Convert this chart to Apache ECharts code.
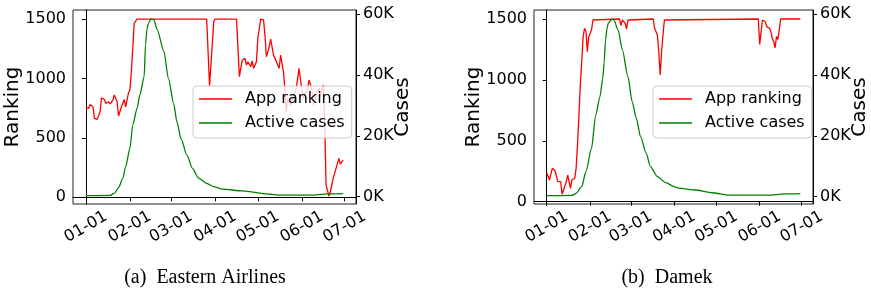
<!DOCTYPE html>
<html>
<head>
<meta charset="utf-8">
<title>App ranking vs active cases</title>
<script src="https://cdn.jsdelivr.net/npm/echarts@6/dist/echarts.min.js"></script>
<style>
  html, body { margin: 0; padding: 0; background: #fff; }
  #main { width: 871px; height: 293px; }
</style>
</head>
<body>
<div id="main"></div>
<script>
// 2020 was a leap year, day index counted from 01-01
const monthStart = [0, 31, 60, 91, 121, 152, 182];

const xTickLabels = ['01-01', '02-01', '03-01', '04-01', '05-01', '06-01', '07-01'];
const rankTicks = [0, 500, 1000, 1500];
const caseTicks = [0, 20000, 40000, 60000];
const seriesNames = ['App ranking', 'Active cases'];
const captions = ['(a)\u2002Eastern Airlines', '(b)\u2002Damek'];

// (a) Eastern Airlines
const eaRankDates = ['01-01','01-03','01-04','01-06','01-07','01-09','01-11','01-12','01-14','01-15',
  '01-17','01-18','01-20','01-21','01-23','01-24','01-26','01-28','01-29','01-30',
  '01-31','02-01','02-02','02-03','02-04','02-06','03-26','03-28','03-31','04-01',
  '04-16','04-18','04-20','04-22','04-23','04-24','04-26','04-27','04-28','04-30',
  '05-01','05-03','05-05','05-06','05-07','05-09','05-10','05-12','05-14','05-16',
  '05-17','05-19','05-20','05-21','05-22','05-24','05-26','05-28','05-30','05-31',
  '06-02','06-05','06-06','06-08','06-09','06-11','06-13','06-14','06-16','06-17',
  '06-18','06-20','06-21','06-23','06-25','06-27','06-28','06-30'];
const eaRankValues = [754,749,782,762,665,656,720,838,824,791,
  804,785,818,861,804,684,762,824,762,776,
  880,903,1057,1253,1464,1500,1500,936,1480,1500,
  1500,1015,1155,1169,1113,1141,1099,1147,1085,1141,
  1337,1500,1492,1365,1183,1267,1332,1197,1141,1085,
  1197,1057,917,720,833,776,846,917,1085,987,
  833,917,987,909,776,860,922,846,945,650,
  103,11,47,160,244,328,280,314];

const eaCaseDates = ['01-01','01-18','01-21','01-24','01-27','01-29','02-01','02-03','02-06','02-08',
  '02-11','02-12','02-13','02-14','02-16','02-18','02-20','02-25','02-28','03-03',
  '03-05','03-08','03-12','03-16','03-20','03-26','03-31','04-06','04-20','05-10',
  '05-15','06-07','06-19','06-30'];
const eaCaseValues = [330,400,1100,3000,6000,9900,15900,23500,29000,33400,
  39400,50000,55000,57000,58400,58000,55000,47600,38900,30100,
  24600,19000,13700,9300,6200,4400,3300,2500,1900,800,
  500,500,900,1000];

// (b) Damek
const dmRankDates = ['01-01','01-02','01-03','01-05','01-07','01-08','01-09','01-11','01-12','01-13',
  '01-15','01-16','01-17','01-18','01-19','01-21','01-22','01-23','01-24','01-25',
  '01-26','01-27','01-28','01-29','01-30','01-31','02-01','02-02','02-03','02-04',
  '02-22','02-23','02-24','02-25','02-26','02-27','02-28','02-29','03-17','03-18',
  '03-20','03-21','03-22','03-23','03-24','03-25','03-26','05-31','06-01','06-02',
  '06-03','06-05','06-06','06-08','06-09','06-10','06-11','06-12','06-13','06-14',
  '06-15','06-16','06-30'];
const dmRankValues = [238,232,178,274,254,246,164,164,61,61,
  164,219,205,110,178,192,274,465,700,960,
  1149,1355,1424,1402,1232,1355,1355,1410,1492,1500,
  1500,1445,1492,1500,1465,1418,1492,1500,1500,1424,
  1369,1232,1040,1232,1369,1492,1500,1500,1292,1396,
  1492,1478,1437,1424,1396,1341,1314,1264,1355,1333,
  1341,1500,1500];

const dmCaseDates = ['01-01','01-19','01-22','01-26','01-29','02-02','02-05','02-08','02-10','02-11',
  '02-12','02-13','02-14','02-17','02-18','02-21','02-24','02-28','03-02','03-05',
  '03-08','03-12','03-15','03-20','03-26','04-01','04-04','04-16','04-28','05-10',
  '06-07','06-19','06-30'];
const dmCaseValues = [330,400,1100,3300,8200,15900,26800,32800,38900,44000,
  51500,55000,57100,58400,58000,54700,48200,39400,31200,25700,
  19700,14300,9900,6600,4600,3300,2800,2200,1300,500,
  500,900,1000];

function dayOf(s) {
  const [m, d] = s.split('-').map(Number);
  return monthStart[m - 1] + d - 1;
}
function pairs(dates, values) {
  return dates.map((d, i) => [dayOf(d), values[i]]);
}
const xTickDays = xTickLabels.map(dayOf);

(function () {
  let myChart = echarts.init(document.getElementById('main'));
  const font = 'DejaVu Sans';
  const grids = [
    { left: 73, top: 10, width: 283, height: 194 },
    { left: 534, top: 10, width: 282, height: 194 }
  ];
  const rankRange = [[-56, 1576], [-19, 1574]];
  const captionX = [205, 667];
  const legendLeft = [193, 653];

  const axisLine = { show: true, lineStyle: { color: '#000', width: 1 } };
  const tick = (vals) => ({ show: true, customValues: vals, length: 4, inside: false, lineStyle: { color: '#000' } });

  let xAxis = [], yAxis = [], series = [], legend = [], graphic = [];
  grids.forEach(function (g, i) {
    g.show = true;
    g.borderColor = '#222';
    g.borderWidth = 1;
    g.backgroundColor = 'transparent';

    xAxis.push({
      type: 'value', gridIndex: i, min: -9.05, max: 190.05,
      splitLine: { show: false }, axisLine: axisLine, axisTick: tick(xTickDays),
      axisLabel: {
        customValues: xTickDays,
        formatter: v => xTickLabels[xTickDays.indexOf(v)] || '',
        rotate: 30, align: 'center', verticalAlign: 'middle', margin: 23,
        fontSize: 16, fontFamily: font, color: '#000'
      }
    });
    yAxis.push({
      type: 'value', gridIndex: i, position: 'left',
      min: rankRange[i][0], max: rankRange[i][1],
      name: 'Ranking', nameLocation: 'middle', nameGap: 50, nameRotate: 90, nameMoveOverlap: false,
      nameTextStyle: { fontSize: 20, fontFamily: font, color: '#000' },
      splitLine: { show: false }, axisLine: axisLine, axisTick: tick(rankTicks),
      axisLabel: {
        customValues: rankTicks, margin: 7, fontSize: 16, fontFamily: font, color: '#000',
        formatter: v => String(v)
      }
    });
    yAxis.push({
      type: 'value', gridIndex: i, position: 'right',
      min: -2400, max: 61300,
      name: 'Cases', nameLocation: 'middle', nameGap: 37, nameRotate: 90, nameMoveOverlap: false,
      nameTextStyle: { fontSize: 20, fontFamily: font, color: '#000' },
      splitLine: { show: false }, axisLine: axisLine, axisTick: tick(caseTicks),
      axisLabel: {
        customValues: caseTicks, margin: 7, fontSize: 16, fontFamily: font, color: '#000',
        formatter: v => (v / 1000) + 'K'
      }
    });

    legend.push({
      data: seriesNames, orient: 'vertical', left: legendLeft[i], top: 86,
      icon: 'rect', itemWidth: 33, itemHeight: 1.3, itemGap: 8,
      padding: [5, 7, 7, 6],
      backgroundColor: 'rgba(255,255,255,0.8)', borderColor: '#cccccc', borderWidth: 1, borderRadius: 4,
      textStyle: { fontSize: 16, lineHeight: 16, fontFamily: font, color: '#000', padding: [0, 0, 0, 8] }
    });

    graphic.push({
      type: 'text', x: captionX[i], y: 278,
      style: {
        text: captions[i], fontSize: 20, fontFamily: 'Liberation Serif', fill: '#000',
        align: 'center', verticalAlign: 'middle'
      }
    });
  });

  const rankData = [pairs(eaRankDates, eaRankValues), pairs(dmRankDates, dmRankValues)];
  const caseData = [pairs(eaCaseDates, eaCaseValues), pairs(dmCaseDates, dmCaseValues)];
  [0, 1].forEach(function (i) {
    series.push({
      name: seriesNames[0], type: 'line', xAxisIndex: i, yAxisIndex: 2 * i,
      data: rankData[i], symbol: 'none', animation: false,
      lineStyle: { color: '#ff0000', width: 1.3 }, itemStyle: { color: '#ff0000' }
    });
    series.push({
      name: seriesNames[1], type: 'line', xAxisIndex: i, yAxisIndex: 2 * i + 1,
      data: caseData[i], symbol: 'none', animation: false,
      smooth: 0.25, smoothMonotone: 'x',
      lineStyle: { color: '#008000', width: 1.3 }, itemStyle: { color: '#008000' }
    });
  });

  let option = {
    animation: false,
    textStyle: { fontFamily: font },
    grid: grids,
    xAxis: xAxis,
    yAxis: yAxis,
    legend: legend,
    graphic: graphic,
    series: series
  };
  myChart.setOption(option);
})();
</script>
</body>
</html>
